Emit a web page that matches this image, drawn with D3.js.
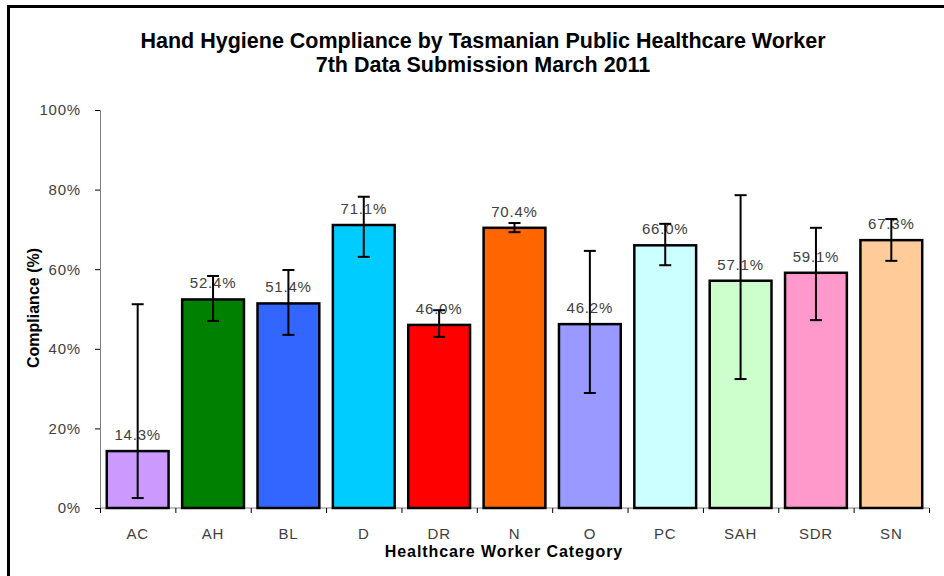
<!DOCTYPE html>
<html>
<head>
<meta charset="utf-8">
<script src="https://cdn.jsdelivr.net/npm/d3@7"></script>
<style>
  body { margin: 0; background: #fff; }
  svg { display: block; font-family: Arial, "Liberation Sans", sans-serif; }
</style>
</head>
<body>
<div class="canvas"></div>
<script>
// Data
var categories = ['AC', 'AH', 'BL', 'D', 'DR', 'N', 'O', 'PC', 'SAH', 'SDR', 'SN'],
    compliance = [14.3, 52.4, 51.4, 71.1, 46.0, 70.4, 46.2, 66.0, 57.1, 59.1, 67.3],
    errorLow   = [2.5, 47.0, 43.5, 63.1, 43.0, 69.3, 28.9, 61.0, 32.4, 47.2, 62.1],
    errorHigh  = [51.2, 58.3, 59.8, 78.2, 49.7, 71.6, 64.6, 71.4, 78.6, 70.4, 72.6],
    barColors  = ['#cc99ff', '#008000', '#3366ff', '#00ccff', '#ff0000', '#ff6600',
                  '#9999ff', '#ccffff', '#ccffcc', '#ff99cc', '#ffcc99'],
    yTicks     = [0, 20, 40, 60, 80, 100];

// Config
var width = 944,
    height = 576,
    plotLeft = 100, plotRight = 929, plotTop = 110, plotBottom = 508,
    labelFont = 15,
    labelSpacing = '0.8px';

var svg = d3.select('.canvas').append('svg')
    .attr('width', width)
    .attr('height', height);

// Outer frame (top and left edges only show)
svg.append('path')
    .attr('d', 'M8.5,' + height + 'V6.5H' + width)
    .attr('fill', 'none')
    .attr('stroke', '#000')
    .attr('stroke-width', 3);

var x = d3.scaleBand()
    .domain(categories)
    .range([plotLeft, plotRight])
    .paddingInner(0.18)
    .paddingOuter(0.09);

var y = d3.scaleLinear()
    .domain([0, 100])
    .range([plotBottom, plotTop]);

var data = categories.map(function (c, i) {
    return {cat: c, value: compliance[i], lo: errorLow[i], hi: errorHigh[i], color: barColors[i]};
});

// Title
var title = svg.append('text')
    .attr('text-anchor', 'middle')
    .attr('font-weight', 'bold')
    .attr('font-size', 21.5)
    .attr('fill', '#000');
title.append('tspan').attr('x', 483).attr('y', 48).text('Hand Hygiene Compliance by Tasmanian Public Healthcare Worker');
title.append('tspan').attr('x', 483).attr('y', 72).text('7th Data Submission March 2011');

// Y axis
var yAxis = svg.append('g')
    .attr('transform', 'translate(' + plotLeft + ',0)')
    .call(d3.axisLeft(y).tickValues(yTicks).tickSize(5).tickPadding(14)
        .tickFormat(function (d) { return d + '%'; }));
yAxis.select('.domain').attr('stroke', '#808080');
yAxis.selectAll('.tick line').attr('stroke', '#000');
yAxis.selectAll('text').attr('font-size', labelFont).attr('fill', '#404040')
    .attr('letter-spacing', labelSpacing)
    .attr('font-family', 'Arial, "Liberation Sans", sans-serif');

// X axis with ticks between categories
var xAxis = svg.append('g')
    .attr('transform', 'translate(0,' + plotBottom + ')');
xAxis.append('line')
    .attr('x1', plotLeft).attr('x2', plotRight)
    .attr('stroke', '#808080');
var step = x.step();
xAxis.selectAll('line.sep')
    .data(d3.range(categories.length + 1))
    .enter().append('line')
    .attr('class', 'sep')
    .attr('x1', function (i) { return plotLeft + i * step + 0.5; })
    .attr('x2', function (i) { return plotLeft + i * step + 0.5; })
    .attr('y1', 0).attr('y2', 5)
    .attr('stroke', '#000');
xAxis.selectAll('text.cat')
    .data(categories)
    .enter().append('text')
    .attr('class', 'cat')
    .attr('x', function (d) { return x(d) + x.bandwidth() / 2; })
    .attr('y', 31)
    .attr('text-anchor', 'middle')
    .attr('font-size', labelFont)
    .attr('letter-spacing', labelSpacing)
    .attr('fill', '#404040')
    .text(function (d) { return d; });

// Axis titles
svg.append('text')
    .attr('x', 504).attr('y', 557)
    .attr('text-anchor', 'middle')
    .attr('font-weight', 'bold')
    .attr('font-size', 16)
    .attr('letter-spacing', '0.9px')
    .text('Healthcare Worker Category');

svg.append('text')
    .attr('transform', 'translate(39,308) rotate(-90)')
    .attr('text-anchor', 'middle')
    .attr('font-weight', 'bold')
    .attr('font-size', 16)
    .text('Compliance (%)');

// Bars
svg.selectAll('rect.bar')
    .data(data)
    .enter().append('rect')
    .attr('class', 'bar')
    .attr('x', function (d) { return x(d.cat); })
    .attr('y', function (d) { return y(d.value); })
    .attr('width', x.bandwidth())
    .attr('height', function (d) { return plotBottom - y(d.value); })
    .attr('fill', function (d) { return d.color; })
    .attr('stroke', '#000')
    .attr('stroke-width', 2.5);

// Value labels
svg.selectAll('text.val')
    .data(data)
    .enter().append('text')
    .attr('class', 'val')
    .attr('x', function (d) { return x(d.cat) + x.bandwidth() / 2; })
    .attr('y', function (d) { return y(d.value) - 11; })
    .attr('text-anchor', 'middle')
    .attr('font-size', labelFont)
    .attr('letter-spacing', labelSpacing)
    .attr('fill', '#404040')
    .text(function (d) { return d.value.toFixed(1) + '%'; });

// Error bars
var err = svg.selectAll('g.err')
    .data(data)
    .enter().append('g')
    .attr('class', 'err')
    .attr('stroke', '#000')
    .attr('stroke-width', 2);
err.append('line')
    .attr('x1', function (d) { return x(d.cat) + x.bandwidth() / 2; })
    .attr('x2', function (d) { return x(d.cat) + x.bandwidth() / 2; })
    .attr('y1', function (d) { return y(d.lo); })
    .attr('y2', function (d) { return y(d.hi); });
err.append('line')
    .attr('x1', function (d) { return x(d.cat) + x.bandwidth() / 2 - 6; })
    .attr('x2', function (d) { return x(d.cat) + x.bandwidth() / 2 + 6; })
    .attr('y1', function (d) { return y(d.lo); })
    .attr('y2', function (d) { return y(d.lo); });
err.append('line')
    .attr('x1', function (d) { return x(d.cat) + x.bandwidth() / 2 - 6; })
    .attr('x2', function (d) { return x(d.cat) + x.bandwidth() / 2 + 6; })
    .attr('y1', function (d) { return y(d.hi); })
    .attr('y2', function (d) { return y(d.hi); });
</script>
</body>
</html>
